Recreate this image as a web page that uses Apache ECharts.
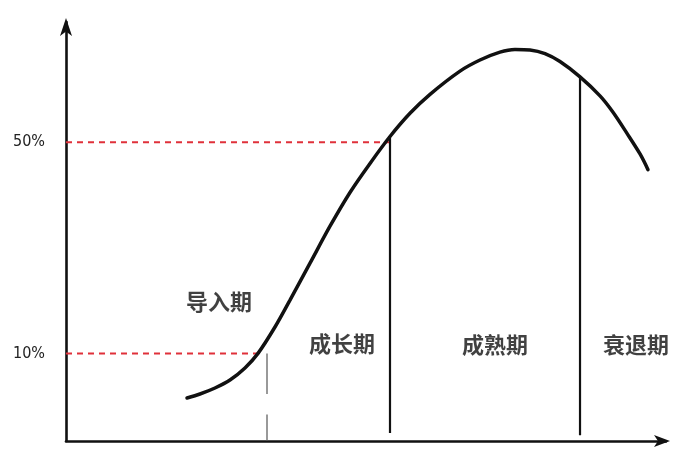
<!DOCTYPE html>
<html>
<head>
<meta charset="utf-8">
<script src="https://cdn.jsdelivr.net/npm/echarts@6/dist/echarts.min.js"></script>
<style>html,body{margin:0;padding:0;background:#fff}#c{width:692px;height:463px}</style>
</head>
<body>
<div id="c"></div>
<script>
// Product life-cycle curve (time in arbitrary units 0-100, sales share in %)
var curveX = [20.17, 22.33, 24.83, 27.33, 29.83, 32.0, 34.83, 37.33, 40.67, 44.0, 47.33, 50.67, 54.0, 57.33, 60.67, 65.67, 69.0, 72.33, 74.83, 77.33, 79.83, 82.33, 85.67, 89.0, 91.17, 93.5, 95.67, 97.0];
var curveY = [1.55, 2.31, 3.45, 4.96, 7.24, 10.0, 15.0, 20.1, 27.1, 34.1, 40.5, 46.0, 51.1, 55.5, 59.1, 63.5, 65.6, 67.1, 67.6, 67.5, 66.8, 65.3, 62.4, 58.8, 55.7, 51.7, 47.8, 44.8];
// stage boundaries (time) and the height where each boundary line meets the curve
var boundaryX = [33.5, 54.0, 85.67];
var boundaryTop = [10, 51.1, 62.4];
var boundaryBottom = [-6.6, -5.1, -5.5];
// reference levels (dashed lines) and how far they run along the time axis
var refLevels = [10, 50];
var refEnds = [32.83, 54.0];
var yTickLabels = ['10%', '50%'];
// stage names and their anchor positions
var stageNames = ['导入期', '成长期', '成熟期', '衰退期'];
var stageX = [25.5, 46.0, 71.5, 95.0];
var stageY = [19.8, 11.9, 11.7, 11.7];

var yMin = -6.6, yMax = 72.8;

var curveData = curveX.map(function (x, i) { return [x, curveY[i]]; });
var series = [];
series.push({
  type: 'line', data: curveData, smooth: 0.3, symbol: 'none',
  lineStyle: { color: '#111', width: 3.5, cap: 'round' }, z: 5
});
refLevels.forEach(function (lv, i) {
  series.push({
    type: 'line', data: [[0, lv], [refEnds[i], lv]], symbol: 'none',
    lineStyle: { color: '#e0303a', width: 2, type: [6, 5] }, z: 3
  });
});
boundaryX.forEach(function (bx, i) {
  var d;
  if (i === 0) {
    d = [[bx, boundaryTop[i]], [bx, 2.3], [bx, '-'], [bx, -1.6], [bx, boundaryBottom[i]]];
  } else {
    d = [[bx, boundaryTop[i]], [bx, boundaryBottom[i]]];
  }
  series.push({
    type: 'line', data: d, symbol: 'none', connectNulls: false,
    lineStyle: { color: i === 0 ? '#555' : '#111', width: i === 0 ? 1.2 : 2.2 }, z: 4
  });
});
series.push({
  type: 'scatter', symbolSize: 0,
  data: stageNames.map(function (n, i) { return { name: n, value: [stageX[i], stageY[i]] }; }),
  label: {
    show: true, position: 'inside', formatter: '{b}',
    fontFamily: '"Noto Sans CJK SC", sans-serif', fontSize: 22, color: '#111', fontWeight: 'bold'
  },
  z: 6
});

var chart = echarts.init(document.getElementById('c'), null, { renderer: 'canvas' });
chart.setOption({
  animation: false,
  backgroundColor: '#fff',
  grid: { left: 66, right: 26, top: 22, bottom: 22, containLabel: false },
  xAxis: {
    type: 'value', min: 0, max: 100,
    axisLine: { onZero: false, lineStyle: { color: '#111', width: 2.6 }, symbol: ['none', 'arrow'], symbolSize: [9, 16], symbolOffset: [0, 4] },
    axisTick: { show: false }, axisLabel: { show: false }, splitLine: { show: false }
  },
  yAxis: {
    type: 'value', min: yMin, max: yMax,
    axisLine: { show: true, lineStyle: { color: '#111', width: 2.6 }, symbol: ['none', 'arrow'], symbolSize: [9, 18], symbolOffset: [0, 4] },
    axisTick: { show: false },
    splitLine: { show: false },
    axisLabel: {
      customValues: refLevels,
      formatter: function (v) { var k = refLevels.indexOf(v); return k >= 0 ? yTickLabels[k] : ''; },
      margin: 21, fontSize: 16, color: '#222',
      fontFamily: '"DejaVu Sans Condensed", "Liberation Sans", sans-serif'
    }
  },
  series: series
});
</script>
</body>
</html>
